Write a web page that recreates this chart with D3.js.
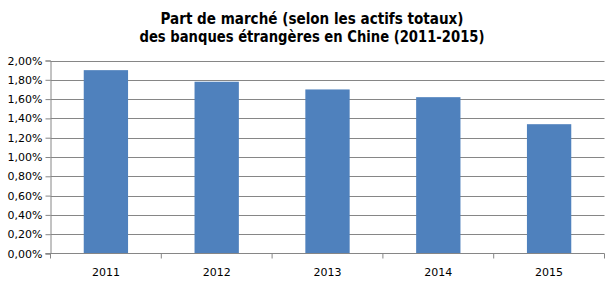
<!DOCTYPE html>
<html>
<head>
<meta charset="utf-8">
<script src="https://cdn.jsdelivr.net/npm/d3@7"></script>
<style>
  body { margin: 0; background: #fff; }
  text { font-family: "DejaVu Sans", sans-serif; }
</style>
</head>
<body>
<svg id="chart" width="615" height="282"></svg>
<script>
  "use strict";

  var years = ["2011", "2012", "2013", "2014", "2015"];
  var parts = [1.90, 1.78, 1.70, 1.62, 1.34];
  var yTicks = [0, 0.2, 0.4, 0.6, 0.8, 1.0, 1.2, 1.4, 1.6, 1.8, 2.0];
  var titleLines = [
    "Part de marché (selon les actifs totaux)",
    "des banques étrangères en Chine  (2011-2015)"
  ];
  var titleWidths = [303, 345]; // largeur mesurée sur l'original

  var svg = d3.select("#chart");

  // zone de tracé
  var plotLeft = 50.5, plotRight = 604.5, plotTop = 60.5, plotBottom = 253.5;

  var xScale = d3.scaleBand().domain(years).range([plotLeft, plotRight]).padding(0);
  var yScale = d3.scaleLinear().domain([0, 2]).range([plotBottom, plotTop]);
  var fBarWidth = 0.4; // part de la catégorie

  // titre
  svg.append("g")
    .selectAll("text")
    .data(titleLines)
    .enter()
    .append("text")
    .attr("x", 312)
    .attr("y", (d, i) => 24 + i * 18)
    .attr("text-anchor", "middle")
    .attr("font-size", 15)
    .attr("font-weight", "bold")
    .attr("fill", "#000")
    .attr("textLength", (d, i) => titleWidths[i])
    .attr("lengthAdjust", "spacingAndGlyphs")
    .text(d => d);

  // lignes de grille
  svg.append("g")
    .selectAll("line")
    .data(yTicks.slice(1))
    .enter()
    .append("line")
    .attr("x1", plotLeft)
    .attr("x2", plotRight)
    .attr("y1", d => Math.round(yScale(d)) + 0.5)
    .attr("y2", d => Math.round(yScale(d)) + 0.5)
    .attr("stroke", "#868686")
    .attr("stroke-width", 1);

  // barres
  svg.append("g")
    .selectAll("rect")
    .data(years)
    .enter()
    .append("rect")
    .attr("x", (d) => xScale(d) + ((1 - fBarWidth) * xScale.bandwidth()) / 2)
    .attr("width", fBarWidth * xScale.bandwidth())
    .attr("y", (d, i) => yScale(parts[i]))
    .attr("height", (d, i) => plotBottom - yScale(parts[i]))
    .attr("fill", "#4F81BD");

  // axe des ordonnées
  var yAxis = d3.axisLeft(yScale)
    .tickValues(yTicks)
    .tickSize(5)
    .tickPadding(3)
    .tickFormat(d => d3.format(".2f")(d).replace(".", ",") + "%");

  var gy = svg.append("g").attr("transform", "translate(" + plotLeft + ",0)").call(yAxis);
  gy.select(".domain").attr("stroke", "#868686");
  gy.selectAll(".tick line").attr("stroke", "#868686");
  gy.selectAll(".tick text")
    .attr("font-size", 11)
    .attr("fill", "#000")
    .style("font-family", "DejaVu Sans, sans-serif");

  // axe des abscisses
  var gx = svg.append("g").attr("transform", "translate(0," + plotBottom + ")");
  gx.append("line")
    .attr("x1", plotLeft - 5)
    .attr("x2", plotRight)
    .attr("stroke", "#868686");
  gx.selectAll("line.tk")
    .data(years.concat(["end"]))
    .enter()
    .append("line")
    .classed("tk", true)
    .attr("x1", d => d === "end" ? plotRight : xScale(d))
    .attr("x2", d => d === "end" ? plotRight : xScale(d))
    .attr("y1", 0)
    .attr("y2", 5)
    .attr("stroke", "#868686");
  gx.selectAll("text")
    .data(years)
    .enter()
    .append("text")
    .attr("x", d => xScale(d) + xScale.bandwidth() / 2)
    .attr("y", 22)
    .attr("text-anchor", "middle")
    .attr("font-size", 11)
    .attr("fill", "#000")
    .text(d => d);
</script>
</body>
</html>
